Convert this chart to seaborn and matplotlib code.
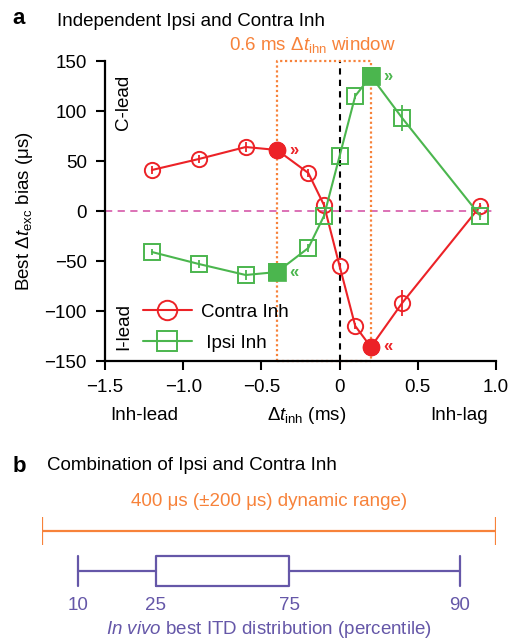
import numpy as np
import pandas as pd
import matplotlib
matplotlib.use("Agg")
import matplotlib.pyplot as plt
import seaborn as sns

# ---- datos panel a ----
dt_inh = [-1.2, -0.9, -0.6, -0.4, -0.2, -0.1, 0.0, 0.1, 0.2, 0.4, 0.9]
contra_bias = [41, 52, 64, 61, 38, 6, -55, -115, -136, -92, 5]
contra_err = [4, 4, 5, 0, 4, 3, 3, 3, 0, 13, 3]
ipsi_bias = [-41, -53, -64, -61, -37, -5, 55, 115, 135, 93, -5]
ipsi_err = [3, 4, 5, 0, 4, 3, 3, 3, 0, 13, 4]
best_x = [-0.4, 0.2]          # puntos rellenos (limites de la ventana)
window = [-0.4, 0.2]

# ---- datos panel b ----
dynamic_range = [-200, 200]   # µs
pct_labels = ["10", "25", "75", "90"]
pct_values = [-168, -100, 18, 168]

RED = "#EC2227"
GREEN = "#4BB64E"
ORANGE = "#F7823A"
PURPLE = "#6557A8"
PINK = "#D966B0"
FS = 13.5

sns.set_theme(style="ticks")
plt.rcParams["font.family"] = ["Liberation Sans", "DejaVu Sans"]
plt.rcParams["mathtext.fontset"] = "custom"
plt.rcParams["mathtext.rm"] = "Liberation Sans"
plt.rcParams["mathtext.it"] = "Liberation Sans:italic"
plt.rcParams["text.color"] = "black"
plt.rcParams["axes.labelcolor"] = "black"

fig = plt.figure(figsize=(5.09, 6.42), dpi=100)
ax = fig.add_axes([105 / 509, 1 - 361 / 642, 391 / 509, 300 / 642])

df = pd.DataFrame({
    "dt": dt_inh * 2,
    "bias": contra_bias + ipsi_bias,
    "err": contra_err + ipsi_err,
    "inh": ["Contra Inh"] * len(dt_inh) + ["Ipsi Inh"] * len(dt_inh),
})

# lineas de referencia
ax.axhline(0, color=PINK, ls=(0, (4, 3)), lw=1.3, zorder=1)
ax.plot([0, 0], [-150, 150], color="black", ls=(0, (3, 2.5)), lw=1.5, zorder=1)
ax.plot([window[0], window[0], window[1], window[1]], [-150, 150, 150, -150],
        color=ORANGE, ls=(0, (1, 1.2)), lw=1.6, zorder=1, clip_on=False)
ax.plot(window, [-150, -150], color=ORANGE, ls=(0, (1, 1.2)), lw=1.6, zorder=1,
        clip_on=False)

estilos = {"Contra Inh": (RED, "o"), "Ipsi Inh": (GREEN, "s")}
handles = []
for nombre, (col, mk) in estilos.items():
    sub = df[df["inh"] == nombre]
    ax.errorbar(sub["dt"], sub["bias"], yerr=sub["err"], fmt="none",
                ecolor=col, elinewidth=1.3, capsize=0, zorder=2)
    sns.lineplot(data=sub, x="dt", y="bias", ax=ax, color=col, lw=1.5,
                 marker=mk, markersize=11, markerfacecolor="none",
                 markeredgecolor=col, markeredgewidth=1.4, zorder=3,
                 sort=False, estimator=None)
    relleno = sub[sub["dt"].isin(best_x)]
    sns.scatterplot(data=relleno, x="dt", y="bias", ax=ax, color=col, marker=mk,
                    s=150, edgecolor=col, linewidth=0.5, zorder=4, legend=False)
    for _, fila in relleno.iterrows():
        flecha = "»" if fila["bias"] > 0 else "«"
        ax.annotate(flecha, (fila["dt"], fila["bias"]), xytext=(9, 0),
                    textcoords="offset points", color=col, fontsize=12,
                    fontweight="bold", va="center", ha="left")
    handles.append(plt.Line2D([], [], color=col, lw=1.5, marker=mk, markersize=14,
                              markerfacecolor="none", markeredgecolor=col,
                              markeredgewidth=1.4))

ax.legend(handles, ["Contra Inh", " Ipsi Inh"], loc="lower left",
          bbox_to_anchor=(0.097, 0.03), borderaxespad=0, borderpad=0,
          frameon=False, fontsize=FS, handlelength=2.6, handletextpad=0.5,
          labelspacing=0.75)

ax.set_xlim(-1.5, 1.0)
ax.set_ylim(-150, 150)
ax.set_xticks([-1.5, -1.0, -0.5, 0, 0.5, 1.0])
ax.set_xticklabels(["\u22121.5", "\u22121.0", "\u22120.5", "0", "0.5", "1.0"])
ax.set_yticks([-150, -100, -50, 0, 50, 100, 150])
ax.set_yticklabels(["\u2212150", "\u2212100", "\u221250", "0", "50", "100", "150"])
ax.tick_params(labelsize=FS, width=1.5, length=6.5, pad=6.5, color="black",
               labelcolor="black")
for s in ["left", "bottom"]:
    ax.spines[s].set_linewidth(1.6)
    ax.spines[s].set_color("black")
sns.despine(ax=ax)
ax.set_xlabel("")
ax.set_ylabel(r"Best $\Delta t_{\rm exc}$ bias (μs)", fontsize=FS, labelpad=7)

ax.text(-1.38, 109, "C-lead", rotation=90, fontsize=FS, ha="center", va="center")
ax.text(-1.38, -116, "I-lead", rotation=90, fontsize=FS, ha="center", va="center")

fig.text(12 / 509, 1 - 18 / 642, "a", fontsize=16, fontweight="bold", va="center")
fig.text(57 / 509, 1 - 21 / 642, "Independent Ipsi and Contra Inh", fontsize=FS,
         va="center")
fig.text(313 / 509, 1 - 45 / 642, r"0.6 ms $\Delta t_{\rm ihn}$ window", fontsize=FS,
         color=ORANGE, ha="center", va="center")
fig.text(144 / 509, 1 - 415 / 642, "Inh-lead", fontsize=FS, ha="center", va="center")
fig.text(307 / 509, 1 - 415 / 642, r"$\Delta t_{\rm inh}$ (ms)", fontsize=FS,
         ha="center", va="center")
fig.text(459 / 509, 1 - 415 / 642, "Inh-lag", fontsize=FS, ha="center", va="center")

# ---- panel b ----
fig.text(13 / 509, 1 - 466 / 642, "b", fontsize=16, fontweight="bold", va="center")
fig.text(47 / 509, 1 - 466 / 642, "Combination of Ipsi and Contra Inh", fontsize=FS,
         va="center")

axb = fig.add_axes([42 / 509, 0, 454 / 509, 160 / 642])
axb.set_xlim(dynamic_range)
axb.set_ylim(0, 160)
axb.axis("off")

# rango dinamico
y_rng = 111
axb.plot(dynamic_range, [y_rng, y_rng], color=ORANGE, lw=1.6)
axb.vlines(dynamic_range, y_rng - 14, y_rng + 14, color=ORANGE, lw=1.6)
axb.text(np.mean(dynamic_range), y_rng + 29,
         "400 μs (±200 μs) dynamic range)", color=ORANGE,
         fontsize=FS, ha="center", va="center")

# boxplot de percentiles
stats = [{"whislo": pct_values[0], "q1": pct_values[1], "med": pct_values[1],
          "q3": pct_values[2], "whishi": pct_values[3], "fliers": []}]
axb.bxp(stats, positions=[71], vert=False, widths=30, showfliers=False,
        boxprops=dict(color=PURPLE, lw=1.6),
        whiskerprops=dict(color=PURPLE, lw=1.6),
        capprops=dict(color=PURPLE, lw=1.6),
        medianprops=dict(color=PURPLE, lw=0), capwidths=30, manage_ticks=False)
for lab, v in zip(pct_labels, pct_values):
    axb.text(v, 37, lab, color=PURPLE, fontsize=FS, ha="center", va="center")
axb.text(np.mean(dynamic_range), 13,
         r"$\it{In\ vivo}$ best ITD distribution (percentile)", color=PURPLE,
         fontsize=FS, ha="center", va="center")
axb.set_xlim(dynamic_range)
axb.set_ylim(0, 160)

fig.savefig("out.png", dpi=100)
